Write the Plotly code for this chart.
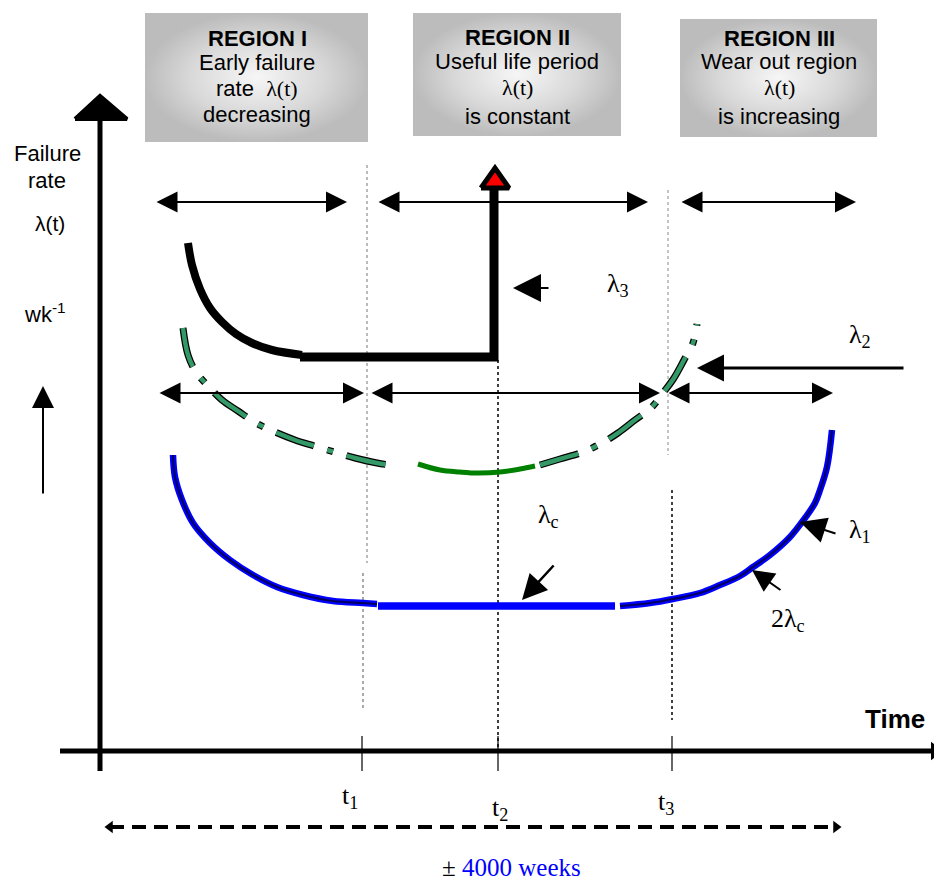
import plotly.graph_objects as go

W, H = 942, 884
OFF = 8  # page body margin of the html page
SANS = "Liberation Sans, Arial, sans-serif"
SERIF = "Liberation Serif, Times New Roman, serif"

# ---- geometry of the drawing (pixel space of the picture) ----
# main axes
yaxis_x = [100, 100]
yaxis_y = [771, 116]
yhead_x = [75, 100, 127, 75]
yhead_y = [119, 96, 119, 119]
xaxis_x = [60, 934]
xaxis_y = [751, 751]
tick_x = [362, 498, 672]
tick_y0, tick_y1 = 736, 771
tick_labels = ["t<sub>1</sub>", "t<sub>2</sub>", "t<sub>3</sub>"]
tick_label_x = [350, 500, 666]
tick_label_y = [797, 809, 803]

# region boxes
box_x0 = [145, 413, 680]
box_x1 = [368, 621, 877]
box_y0 = [13, 13, 19]
box_y1 = [142, 136, 137]
box_cx = [257, 517, 779]
LAM = "<span style='font-family:Liberation Serif'>λ(t)</span>"
box_lines = [
    ["<b>REGION I</b>", "Early failure", "rate  " + LAM, "decreasing"],
    ["<b>REGION II</b>", "Useful life period", LAM, "is constant"],
    ["<b>REGION III</b>", "Wear out region", LAM, "is increasing"],
]
box_line_y = [[38, 62, 88, 114], [37, 61, 87, 116], [38, 61, 87, 116]]

# black curve lambda3: bend, then flat + vertical
black_bend_x = [188, 192, 200, 210, 222, 236, 252, 272, 302]
black_bend_y = [243, 265, 289, 308, 322, 334, 343, 350, 355]
black_step_x = [300, 494, 494]
black_step_y = [357, 357, 190]
red_head_x = [481, 495, 509, 481]
red_head_y = [188, 168, 188, 188]

# green dash-dot curve lambda2 (left, right) and solid middle
green_left_x = [183, 188, 196, 210, 222, 238, 256, 275, 295, 314, 334, 355, 377, 397]
green_left_y = [328, 355, 372, 388, 400, 411, 423, 432, 440, 446, 452, 458, 463, 466]
green_right_x = [540, 560, 583, 602, 618, 635, 652, 663, 674, 684, 693, 697]
green_right_y = [465, 459, 452, 443, 433, 420, 407, 393, 378, 360, 343, 324]
green_mid_x = [418, 440, 460, 478, 500, 520, 535]
green_mid_y = [464, 470, 472, 473, 472, 469, 466]

# blue curve lambda1
blue_left_x = [173, 175, 182, 193, 210, 230, 253, 277, 303, 333, 363, 377]
blue_left_y = [455, 477, 500, 523, 543, 560, 575, 587, 595, 601, 603, 604]
blue_flat_x = [378, 615]
blue_flat_y = [606, 606]
blue_right_x = [620, 650, 673, 700, 720, 740, 753, 770, 790, 805, 815, 820, 827, 832]
blue_right_y = [606, 603, 599, 593, 585, 576, 567, 555, 537, 518, 503, 490, 467, 430]

# dotted guide lines: (x, y0, y1, colour, width)
guides = [
    (367, 165, 563, "#777777", 1),
    (363, 573, 710, "#555555", 1),
    (498, 360, 750, "#000000", 1.5),
    (668, 190, 455, "#888888", 1),
    (672, 490, 720, "#000000", 1.5),
]

# double arrows: (x_left, x_right, y)
double_arrows = [
    (155, 347, 202), (377, 648, 202), (680, 856, 202),
    (158, 364, 393), (370, 660, 393), (667, 833, 393),
]

# single arrows: (tip_x, tip_y, tail_x, tail_y, width, size)
single_arrows = [
    (43, 386, 43, 495, 2, 2.2),
    (513, 288, 550, 288, 2, 2.8),
    (697, 368, 905, 368, 3, 1.8),
    (522, 600, 555, 564, 2.5, 2.0),
    (800, 522, 837, 534, 2, 2.6),
    (752, 570, 782, 591, 2, 2.2),
]

# bottom dashed span
span_x = [110, 836]
span_y = [827, 827]

fig = go.Figure()

# region boxes with radial grey gradient
for x0, x1, y0, y1 in zip(box_x0, box_x1, box_y0, box_y1):
    fig.add_trace(go.Scatter(
        x=[x0, x1, x1, x0, x0], y=[y0, y0, y1, y1, y0], mode="lines",
        line=dict(width=0), fill="toself",
        fillgradient=dict(type="radial", colorscale=[[0, "#f6f6f6"], [0.6, "#d8d8d8"], [1, "#bcbcbc"]]),
        hoverinfo="skip"))

# guide lines
for gx, gy0, gy1, gc, gw in guides:
    fig.add_trace(go.Scatter(x=[gx, gx], y=[gy0, gy1], mode="lines",
                             line=dict(color=gc, width=gw, dash="dot"), hoverinfo="skip"))

# axes of the drawing
fig.add_trace(go.Scatter(x=xaxis_x, y=xaxis_y, mode="lines", line=dict(color="black", width=5)))
fig.add_trace(go.Scatter(x=[xaxis_x[1] + 1], y=[xaxis_y[1]], mode="markers", cliponaxis=False,
                         marker=dict(symbol="triangle-right", size=16, color="black")))
fig.add_trace(go.Scatter(x=yaxis_x, y=yaxis_y, mode="lines", line=dict(color="black", width=5)))
fig.add_trace(go.Scatter(x=yhead_x, y=yhead_y, mode="lines", fill="toself", fillcolor="black",
                         line=dict(color="black", width=4)))
for tx in tick_x:
    fig.add_trace(go.Scatter(x=[tx, tx], y=[tick_y0, tick_y1], mode="lines",
                             line=dict(color="black", width=1.2)))

# lambda3 curve
fig.add_trace(go.Scatter(x=black_bend_x, y=black_bend_y, mode="lines",
                         line=dict(color="black", width=8, shape="spline")))
fig.add_trace(go.Scatter(x=black_step_x, y=black_step_y, mode="lines",
                         line=dict(color="black", width=9)))
fig.add_trace(go.Scatter(x=red_head_x, y=red_head_y, mode="lines", fill="toself", fillcolor="#ff0000",
                         line=dict(color="black", width=5)))

# lambda2 dash-dot curve
for gx, gy in [(green_left_x, green_left_y), (green_right_x, green_right_y)]:
    fig.add_trace(go.Scatter(x=gx, y=gy, mode="lines",
                             line=dict(color="black", width=7, dash="40px,14px,6px,14px", shape="spline")))
    fig.add_trace(go.Scatter(x=gx, y=gy, mode="lines",
                             line=dict(color="#339966", width=4.5, dash="40px,14px,6px,14px", shape="spline")))
fig.add_trace(go.Scatter(x=green_mid_x, y=green_mid_y, mode="lines",
                         line=dict(color="#008000", width=5, shape="spline")))

# lambda1 blue curve
for bx, by in [(blue_left_x, blue_left_y), (blue_right_x, blue_right_y)]:
    fig.add_trace(go.Scatter(x=bx, y=by, mode="lines", line=dict(color="#0000ff", width=6.5, shape="spline")))
    fig.add_trace(go.Scatter(x=bx, y=by, mode="lines", line=dict(color="#000060", width=2.2, shape="spline")))
fig.add_trace(go.Scatter(x=blue_flat_x, y=blue_flat_y, mode="lines", line=dict(color="#0000ff", width=7.5)))

# dashed span
fig.add_trace(go.Scatter(x=span_x, y=span_y, mode="lines", line=dict(color="black", width=4, dash="14px,8px")))
fig.add_trace(go.Scatter(x=span_x, y=span_y, mode="markers",
                         marker=dict(symbol=["triangle-left", "triangle-right"], size=11, color="black")))

annotations = []
for xl, xr, ay in double_arrows:
    annotations.append(dict(x=xr, y=ay, ax=xl, ay=ay, xref="x", yref="y", axref="x", ayref="y",
                            text="", showarrow=True, arrowside="end+start", arrowhead=2,
                            arrowsize=2.1, arrowwidth=2, arrowcolor="black"))
for tx, ty, sx, sy, w, s in single_arrows:
    annotations.append(dict(x=tx, y=ty, ax=sx, ay=sy, xref="x", yref="y", axref="x", ayref="y",
                            text="", showarrow=True, arrowhead=2, arrowsize=s, arrowwidth=w,
                            arrowcolor="black"))


def label(x, y, text, size, family=SANS, color="black"):
    annotations.append(dict(x=x, y=y, xref="x", yref="y", text=text, showarrow=False,
                            xanchor="center", yanchor="middle",
                            font=dict(family=family, size=size, color=color)))


for cx, lines, ys in zip(box_cx, box_lines, box_line_y):
    for t, ly in zip(lines, ys):
        label(cx, ly, t, 22)

label(47, 153, "Failure", 22)
label(47, 180, "rate", 22)
label(50, 223, "λ(t)", 21)
label(45, 313, "wk<sup>-1</sup>", 22)
label(618, 285, "λ<sub>3</sub>", 26, SERIF)
label(860, 336, "λ<sub>2</sub>", 26, SERIF)
label(548, 516, "λ<sub>c</sub>", 26, SERIF)
label(860, 531, "λ<sub>1</sub>", 26, SERIF)
label(788, 620, "2λ<sub>c</sub>", 26, SERIF)
label(895, 719, "<b>Time</b>", 26)
for lx, ly, lt in zip(tick_label_x, tick_label_y, tick_labels):
    label(lx, ly, lt, 26, SERIF)
label(511, 867, "<span style='color:#000000'>±</span> 4000 weeks", 25, SERIF, "#0000ff")

# the page has an 8px body margin: offset the plot so data units equal picture pixels
fig.update_layout(
    width=W - OFF, height=H - OFF, margin=dict(l=0, r=0, t=0, b=0),
    paper_bgcolor="white", plot_bgcolor="white", showlegend=False,
    xaxis=dict(range=[OFF, W], visible=False, fixedrange=True),
    yaxis=dict(range=[H, OFF], visible=False, fixedrange=True),
    annotations=annotations,
)

fig.write_html("out.html")
